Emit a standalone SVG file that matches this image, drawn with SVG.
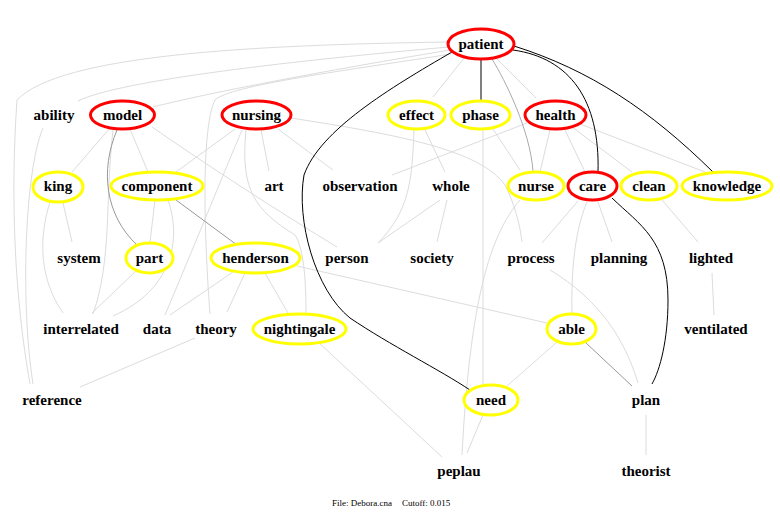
<svg xmlns="http://www.w3.org/2000/svg" width="780" height="516" viewBox="0 0 780 516">
<style>
.bg{fill:#fff}
.e{fill:none;stroke:#dcdcdc;stroke-width:1}
.g{fill:none;stroke:#999;stroke-width:1}
.k{fill:none;stroke:#000;stroke-width:1}
.r{fill:#fff;stroke:#f00;stroke-width:3}
.y{fill:#fff;stroke:#ff0;stroke-width:3}
text{font-family:"Liberation Serif","Times New Roman",serif;font-weight:bold;font-size:15px;text-anchor:middle;fill:#000}
.foot{font-weight:normal;font-size:9px;text-anchor:start}
</style>
<rect class="bg" x="0" y="0" width="780" height="516"/>
<g id="connectors">
<path class="e" d="M448,42 C250,45 60,55 17,100 C10,200 15,300 30,384"/>
<path class="e" d="M449,47 C300,60 120,80 78,101"/>
<path class="e" d="M450,50 C300,75 200,95 153,107"/>
<path class="e" d="M451,54 C350,70 230,85 215,100 C200,130 205,250 210,314"/>
<path class="e" d="M465,57 L433,97"/>
<path class="e" d="M496,58 L536,98"/>
<path class="e" d="M110,128 L72,172"/>
<path class="e" d="M130,129 L148,172"/>
<path class="e" d="M152,127 C200,160 260,200 337,247"/>
<path class="e" d="M113,130 C105,200 112,260 93,314"/>
<path class="e" d="M235,129 L176,172"/>
<path class="e" d="M261,130 L269,171"/>
<path class="e" d="M278,129 L333,170"/>
<path class="e" d="M242,130 C225,170 205,220 165,315"/>
<path class="e" d="M246,130 C240,190 255,210 295,235 C305,250 306,290 306,313"/>
<path class="e" d="M291,118 C400,135 480,150 505,185 C515,205 520,225 522,242"/>
<path class="e" d="M414,130 C412,180 410,210 378,243"/>
<path class="e" d="M425,130 L445,172"/>
<path class="e" d="M440,200 L378,243"/>
<path class="e" d="M447,200 L437,242"/>
<path class="e" d="M527,123 L392,175"/>
<path class="e" d="M550,130 L540,172"/>
<path class="e" d="M565,130 L585,172"/>
<path class="e" d="M572,127 L632,172"/>
<path class="e" d="M580,124 L705,172"/>
<path class="e" d="M493,129 L520,170"/>
<path class="e" d="M483,130 L483,385"/>
<path class="e" d="M520,200 C490,235 470,300 462,455"/>
<path class="e" d="M578,201 L542,243"/>
<path class="e" d="M598,202 L612,242"/>
<path class="e" d="M587,202 C575,230 571,270 572,313"/>
<path class="e" d="M662,200 L698,242"/>
<path class="e" d="M712,273 L714,315"/>
<path class="e" d="M550,270 C600,300 625,340 638,383"/>
<path class="e" d="M557,342 L507,386"/>
<path class="e" d="M483,415 L467,453"/>
<path class="e" d="M646,415 L646,455"/>
<path class="e" d="M317,341 L442,457"/>
<path class="e" d="M297,266 L547,323"/>
<path class="e" d="M265,273 L288,313"/>
<path class="e" d="M245,273 L227,312"/>
<path class="e" d="M233,272 L170,315"/>
<path class="e" d="M195,338 L80,387"/>
<path class="e" d="M63,203 L72,242"/>
<path class="e" d="M50,202 C38,240 40,280 63,313"/>
<path class="e" d="M137,270 L92,313"/>
<path class="e" d="M155,200 L150,242"/>
<path class="e" d="M168,200 C182,240 172,290 113,316"/>
<path class="e" d="M43,128 C25,170 20,300 33,384"/>
<path class="g" d="M117,130 C100,170 105,215 137,245"/>
<path class="g" d="M176,200 L237,245"/>
<path class="g" d="M585,342 L632,386"/>
<path class="g" d="M492,59 C505,80 530,130 533,171" style="stroke:#aaa"/>
<path class="k" d="M452,52 C390,88 320,130 304,175 C296,220 315,290 350,318 C390,345 440,370 470,390"/>
<path class="k" d="M481,59 L481,100"/>
<path class="k" d="M513,50 C570,58 600,100 598,172"/>
<path class="k" d="M514,46 C590,70 650,110 713,172"/>
<path class="k" d="M612,198 C640,225 668,240 668,300 C668,340 660,370 652,384"/>
</g>
<g id="n-patient"><ellipse class="r" cx="481" cy="44" rx="33" ry="15"/><text x="481" y="49">patient</text></g>
<g id="n-ability"><text x="54" y="120">ability</text></g>
<g id="n-model"><ellipse class="r" cx="122.5" cy="115" rx="32" ry="14"/><text x="122.5" y="120">model</text></g>
<g id="n-nursing"><ellipse class="r" cx="256.5" cy="115" rx="34.5" ry="14"/><text x="256.5" y="120">nursing</text></g>
<g id="n-effect"><ellipse class="y" cx="416.5" cy="115" rx="28.5" ry="14"/><text x="416.5" y="120">effect</text></g>
<g id="n-phase"><ellipse class="y" cx="480.5" cy="115" rx="29.5" ry="14"/><text x="480.5" y="120">phase</text></g>
<g id="n-health"><ellipse class="r" cx="555.5" cy="115" rx="30.5" ry="14"/><text x="555.5" y="120">health</text></g>
<g id="n-king"><ellipse class="y" cx="58" cy="187" rx="25" ry="15"/><text x="58" y="191">king</text></g>
<g id="n-component"><ellipse class="y" cx="157" cy="186" rx="46" ry="14"/><text x="157" y="191">component</text></g>
<g id="n-art"><text x="274" y="191">art</text></g>
<g id="n-observation"><text x="360" y="191">observation</text></g>
<g id="n-whole"><text x="451" y="191">whole</text></g>
<g id="n-nurse"><ellipse class="y" cx="536" cy="186" rx="28" ry="14"/><text x="536" y="191">nurse</text></g>
<g id="n-care"><ellipse class="r" cx="592.5" cy="186" rx="24.5" ry="14"/><text x="592.5" y="191">care</text></g>
<g id="n-clean"><ellipse class="y" cx="649" cy="186" rx="28" ry="14"/><text x="649" y="191">clean</text></g>
<g id="n-knowledge"><ellipse class="y" cx="727" cy="186" rx="45" ry="14"/><text x="727" y="191">knowledge</text></g>
<g id="n-system"><text x="79" y="263">system</text></g>
<g id="n-part"><ellipse class="y" cx="149.5" cy="258" rx="23.5" ry="15"/><text x="149.5" y="263">part</text></g>
<g id="n-henderson"><ellipse class="y" cx="255.5" cy="258" rx="44.5" ry="15"/><text x="255.5" y="263">henderson</text></g>
<g id="n-person"><text x="347" y="263">person</text></g>
<g id="n-society"><text x="432" y="263">society</text></g>
<g id="n-process"><text x="531" y="263">process</text></g>
<g id="n-planning"><text x="619" y="263">planning</text></g>
<g id="n-lighted"><text x="711" y="263">lighted</text></g>
<g id="n-interrelated"><text x="81" y="334">interrelated</text></g>
<g id="n-data"><text x="157" y="334">data</text></g>
<g id="n-theory"><text x="216" y="334">theory</text></g>
<g id="n-nightingale"><ellipse class="y" cx="299.5" cy="329" rx="46.5" ry="15"/><text x="299.5" y="334">nightingale</text></g>
<g id="n-able"><ellipse class="y" cx="571.5" cy="329" rx="24.5" ry="15"/><text x="571.5" y="334">able</text></g>
<g id="n-ventilated"><text x="716" y="334">ventilated</text></g>
<g id="n-reference"><text x="52" y="405">reference</text></g>
<g id="n-need"><ellipse class="y" cx="491" cy="400" rx="27" ry="15"/><text x="491" y="405">need</text></g>
<g id="n-plan"><text x="646" y="405">plan</text></g>
<g id="n-peplau"><text x="459" y="476">peplau</text></g>
<g id="n-theorist"><text x="646" y="476">theorist</text></g>
<text class="foot" x="332" y="506">File: Debora.cna</text>
<text class="foot" x="402" y="506">Cutoff: 0.015</text>
</svg>
